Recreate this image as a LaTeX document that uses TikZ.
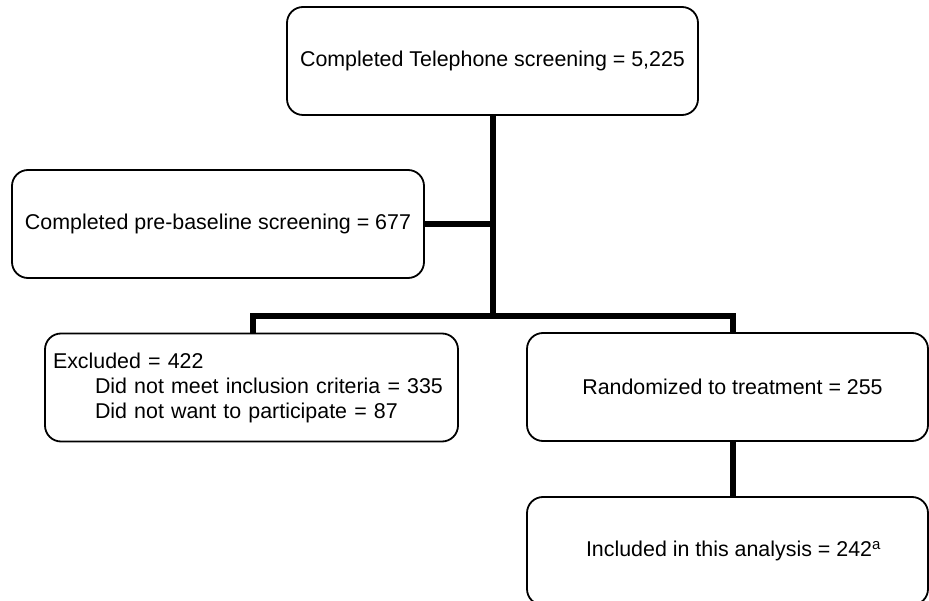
\documentclass[tikz,border=0pt]{standalone}
\usepackage{fontspec}
\setmainfont{Liberation Sans}
\begin{document}
\begin{tikzpicture}[x=1pt,y=-1pt,
  box/.style={draw, line width=1.8pt, rounded corners=16pt, fill=white,
    minimum height=108pt, inner sep=0pt, font=\fontsize{21.4}{25}\selectfont},
  link/.style={line width=6pt}]
\useasboundingbox (0,0) rectangle (929,601);
\clip (0,0) rectangle (929,601);

% screening stages
\node[box, minimum width=411pt] (tel) at (492.5,61) {Completed Telephone screening = 5,225};
\node[box, minimum width=412pt] (pre) at (218,224) {Completed pre-baseline screening = 677};

% outcome of screening
\node[box, minimum width=413pt, text width=397pt, align=left] (excl) at (251.5,387.5)
  {Excluded = 422\\
   \hspace*{42pt}Did not meet inclusion criteria = 335\\
   \hspace*{42pt}Did not want to participate = 87};
\node[box, minimum width=401pt] (rand) at (727.5,387) {\hspace*{10pt}Randomized to treatment = 255};
\node[box, minimum width=401pt] (incl) at (727.5,551) {\hspace*{12pt}Included in this analysis = 242\textsuperscript{a}};

% branching points
\coordinate (split) at (493,316);
\coordinate (bl) at (253,316);
\coordinate (br) at (733,316);

% connectors
\draw[link] (tel.south -| split) -- (split);
\draw[link] (pre.east) -- (pre.east -| split);
\draw[link] (bl |- excl.north) -- (bl) -- (br) -- (br |- rand.north);
\draw[link] (br |- rand.south) -- (br |- incl.north);
\end{tikzpicture}
\end{document}
